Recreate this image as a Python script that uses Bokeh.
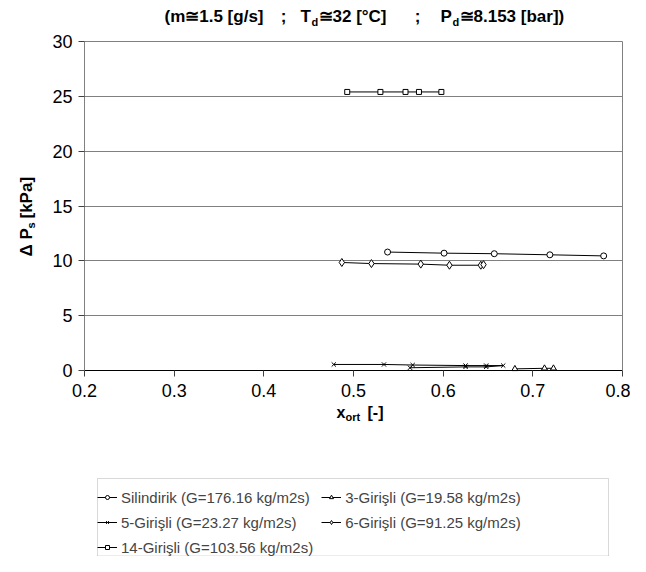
from math import pi
from bokeh.plotting import figure
from bokeh.models import (Legend, LegendItem, Label, FixedTicker, Range1d, LinearAxis,
                          BoxAnnotation)
from bokeh.embed import file_html
from bokeh.resources import INLINE

# ---------------- data ----------------
series_names = [
    "Silindirik (G=176.16 kg/m2s)",
    "3-Girişli (G=19.58 kg/m2s)",
    "5-Girişli (G=23.27 kg/m2s)",
    "6-Girişli (G=91.25 kg/m2s)",
    "14-Girişli (G=103.56 kg/m2s)",
]
x_sil = [0.538, 0.601, 0.657, 0.719, 0.779]
y_sil = [10.8, 10.7, 10.65, 10.55, 10.45]

x_3g = [0.680, 0.713, 0.723]
y_3g = [0.15, 0.2, 0.2]

x_5g = [0.478, 0.534, 0.566, 0.625, 0.648, 0.667, 0.648, 0.625, 0.563]
y_5g = [0.55, 0.55, 0.5, 0.45, 0.45, 0.45, 0.33, 0.33, 0.25]

x_6g = [0.487, 0.520, 0.575, 0.607, 0.642, 0.645]
y_6g = [9.85, 9.75, 9.7, 9.6, 9.6, 9.65]

x_14g = [0.493, 0.530, 0.558, 0.573, 0.598]
y_14g = [25.4, 25.4, 25.4, 25.4, 25.4]

x_ticks = [0.2, 0.3, 0.4, 0.5, 0.6, 0.7, 0.8]
y_ticks = [0, 5, 10, 15, 20, 25, 30]

# ---------------- layout geometry (canvas px) ----------------
W, H = 630, 556
F_LEFT, F_RIGHT, F_TOP, F_BOTTOM = 84, 622, 41, 370  # plotting area in canvas px
X0, X1, Y0, Y1 = 0.2, 0.8, 0, 30


def px2x(px):
    return X0 + (px - F_LEFT) / (F_RIGHT - F_LEFT) * (X1 - X0)


def py2y(py):
    return Y0 + (F_BOTTOM - py) / (F_BOTTOM - F_TOP) * (Y1 - Y0)


FONT = "Liberation Sans"
GREY = "#808080"

p = figure(width=W, height=H, output_backend="svg", toolbar_location=None,
           x_range=Range1d(px2x(0), px2x(W)), y_range=Range1d(py2y(H), py2y(0)),
           min_border=0)
p.background_fill_color = "white"
p.border_fill_color = "white"
p.outline_line_color = None

# axes drawn at the edges of the data area
p.xaxis.fixed_location = Y0
p.yaxis.fixed_location = X0
p.xaxis.bounds = (X0, X1)
p.yaxis.bounds = (Y0, Y1)
p.xaxis.ticker = FixedTicker(ticks=x_ticks)
p.yaxis.ticker = FixedTicker(ticks=y_ticks)
p.xaxis.major_label_overrides = {t: f"{t:.1f}" for t in x_ticks}
for ax in (p.xaxis, p.yaxis):
    ax.major_label_text_font = FONT
    ax.major_label_text_font_size = "18px"
    ax.major_label_text_color = "black"
    ax.major_tick_in = 0
    ax.major_tick_out = 6
    ax.minor_tick_line_color = None
    ax.major_tick_line_color = "#404040"
p.xaxis.axis_line_color = "black"
p.yaxis.axis_line_color = GREY
p.xaxis.major_label_standoff = 7
p.yaxis.major_label_standoff = 6

# right border of plotting area
rax = LinearAxis(fixed_location=X1, bounds=(Y0, Y1), ticker=FixedTicker(ticks=[]),
                 axis_line_color=GREY, major_tick_line_color=None,
                 minor_tick_line_color=None, major_label_text_font_size="0px")
p.add_layout(rax, "right")

p.xgrid.grid_line_color = None
grid = p.ygrid[0]
grid.ticker = FixedTicker(ticks=y_ticks)
if "cross_bounds" in grid.properties():
    grid.grid_line_color = GREY
    grid.cross_bounds = (X0, X1)
else:
    grid.grid_line_color = None
    p.segment(x0=[X0] * len(y_ticks), y0=y_ticks, x1=[X1] * len(y_ticks), y1=y_ticks,
              line_color=GREY, line_width=1, level="underlay")

# series
common = dict(line_color="black", fill_color="white", line_width=1)
l1 = p.line(x_sil, y_sil, line_color="black", line_width=1)
m1 = p.scatter(x_sil, y_sil, marker="circle", size=6, **common)
l2 = p.line(x_3g, y_3g, line_color="black", line_width=1)
m2 = p.scatter(x_3g, y_3g, marker="triangle", size=6, **common)
l3 = p.line(x_5g, y_5g, line_color="black", line_width=1)
m3 = p.scatter(x_5g, y_5g, marker="x", size=6, line_color="black", line_width=1)
l4 = p.line(x_6g, y_6g, line_color="black", line_width=1)
m4 = p.scatter(x_6g, y_6g, marker="diamond", size=8, **common)
l5 = p.line(x_14g, y_14g, line_color="black", line_width=1)
m5 = p.scatter(x_14g, y_14g, marker="square", size=5, **common)

# legend frame
p.add_layout(BoxAnnotation(left=px2x(97), right=px2x(608), top=py2y(478),
                           bottom=py2y(555.5), fill_color="white", fill_alpha=1,
                           line_color=GREY, line_width=1, level="annotation"))

items = [
    LegendItem(label=series_names[0], renderers=[l1, m1]),
    LegendItem(label=series_names[1], renderers=[l2, m2]),
    LegendItem(label=series_names[2], renderers=[l3, m3]),
    LegendItem(label=series_names[3], renderers=[l4, m4]),
    LegendItem(label=series_names[4], renderers=[l5, m5]),
]
legend = Legend(items=items, orientation="horizontal", ncols=2, location=(97, 0.5))
legend.label_text_font = FONT
legend.label_text_font_size = "15px"
legend.label_height = 16
legend.label_width = 182
legend.glyph_height = 10
legend.glyph_width = 20
legend.label_standoff = 4
legend.spacing = 8
legend.padding = 7
legend.margin = 0
legend.border_line_color = None
legend.background_fill_alpha = 0
p.add_layout(legend, "center")


def lab(text, px, py, size, bold=True, angle=0.0, align="left"):
    p.add_layout(Label(x=px2x(px), y=py2y(py), text=text, text_font=FONT,
                       text_font_size=f"{size}px",
                       text_font_style="bold" if bold else "normal",
                       text_baseline="middle", text_align=align, angle=angle,
                       text_color="black"))


# title pieces
TY = 16
lab("(m≅1.5 [g/s]", 263, TY, 17, align="right")
lab(";", 283, TY, 17, align="center")
lab("T", 300, TY, 17)
lab("d", 311, TY + 5, 11)
lab("≅32 [°C]", 318, TY, 17)
lab(";", 417, TY, 17, align="center")
lab("P", 440, TY, 17)
lab("d", 452, TY + 5, 11)
lab("≅8.153 [bar])", 459, TY, 17)

# x-axis label
XY = 412
lab("x", 336, XY, 16)
lab("ort", 345, XY + 4, 11)
lab("[-]", 367, XY, 16)

# y-axis label (rotated)
YX = 26
lab("Δ P", YX, 256, 17, angle=pi / 2)
lab("s", YX + 4, 228, 11, angle=pi / 2)
lab("[kPa]", YX, 218, 17, angle=pi / 2)

open("out.html", "w").write(file_html(p, INLINE))
